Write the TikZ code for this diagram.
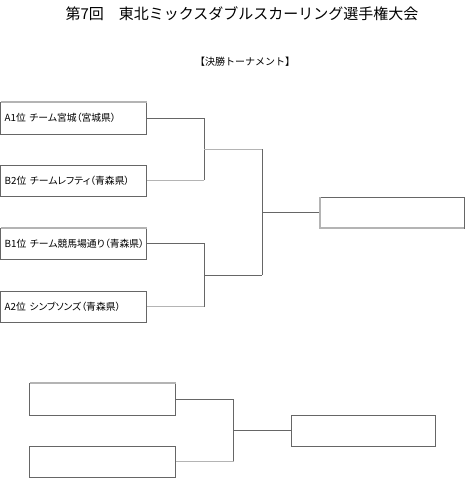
\documentclass[tikz,border=0pt]{standalone}
\usepackage{fontspec}
\newfontfamily\jp{Noto Sans CJK JP}
\newfontfamily\jpp[RawFeature=+palt]{Noto Sans CJK JP}
\definecolor{dk}{HTML}{666666}
\definecolor{lt}{HTML}{B4B4B4}
\tikzset{
  box/.style={draw=dk, line width=0.9pt, rectangle, inner sep=0pt, outer sep=0pt, anchor=north west},
  wire/.style={draw=dk, line width=0.9pt},
  litewire/.style={draw=lt, line width=1.3pt},
  lbl/.style={anchor=west, inner sep=0pt, font=\jpp\fontsize{9.8}{11}\selectfont},
}
\begin{document}
\begin{tikzpicture}[x=1pt,y=-1pt]
\useasboundingbox (0,0) rectangle (465,478);
% title
\node[font=\jp\fontsize{15}{16}\selectfont, inner sep=0pt] (title) at (242,14) {第7回　東北ミックスダブルスカーリング選手権大会};
\node[font=\jp\fontsize{10}{11}\selectfont, inner sep=0pt] (sub) at (245,62) {【決勝トーナメント】};
% boxes
\node[box, minimum width=146pt, minimum height=32pt] (b1) at (0.5,102) {};
\node[box, minimum width=146pt, minimum height=31pt] (b2) at (0.5,165) {};
\node[box, minimum width=146pt, minimum height=31pt] (b3) at (0.5,228) {};
\node[box, minimum width=146pt, minimum height=31pt] (b4) at (0.5,291) {};
\node[box, minimum width=144pt, minimum height=31pt] (f1) at (320,197) {};
\node[box, minimum width=146pt, minimum height=32pt] (b5) at (29.5,383) {};
\node[box, minimum width=146pt, minimum height=31pt] (b6) at (29.5,446) {};
\node[box, minimum width=144pt, minimum height=31pt] (f2) at (291.5,415) {};
% labels
\node[lbl] (t1) at ([xshift=4pt]b1.west) {A1位\hspace{1.5pt} チーム宮城（宮城県）};
\node[lbl] (t2) at ([xshift=4pt]b2.west) {B2位\hspace{1.5pt} チームレフティ（青森県）};
\node[lbl] (t3) at ([xshift=4pt]b3.west) {B1位\hspace{1.5pt} チーム競馬場通り（青森県）};
\node[lbl] (t4) at ([xshift=4pt]b4.west) {A2位\hspace{1.5pt} シンブソンズ（青森県）};
% junction coordinates
\coordinate (c1) at (204,118);
\coordinate (c2) at (204,180.5);
\coordinate (j1) at (204,149.5);
\coordinate (m1) at (262,149.5);
\coordinate (c3) at (204,243.5);
\coordinate (c4) at (204,306.5);
\coordinate (j2) at (204,275);
\coordinate (m2) at (262,275);
\coordinate (c5) at (233.5,399);
\coordinate (c6) at (233.5,461.5);
\coordinate (j3) at (233.5,430.5);
% connectors
\draw[wire] (b1.east) -- (c1) -- (c2);
\draw[litewire] (c2) -- (b2.east);
\draw[litewire] (j1) -- (m1);
\draw[wire] (b3.east) -- (c3) -- (c4);
\draw[litewire] (c4) -- (b4.east);
\draw[wire] (j2) -- (m2);
\draw[wire] (m1) -- (m2);
\draw[wire] (m1 |- f1.west) -- (f1.west);
\draw[wire] (b5.east) -- (c5) -- (c6);
\draw[litewire] (c6) -- (b6.east);
\draw[wire] (j3) -- (f2.west);
% light edges
\draw[litewire] (b1.north west) -- (b1.north east);
\draw[litewire] (b3.north west) -- (b3.north east);
\draw[litewire] (b5.north west) -- (b5.north east);
\draw[litewire] (f1.north west) -- (f1.south west) -- (f1.south east);
\end{tikzpicture}
\end{document}
